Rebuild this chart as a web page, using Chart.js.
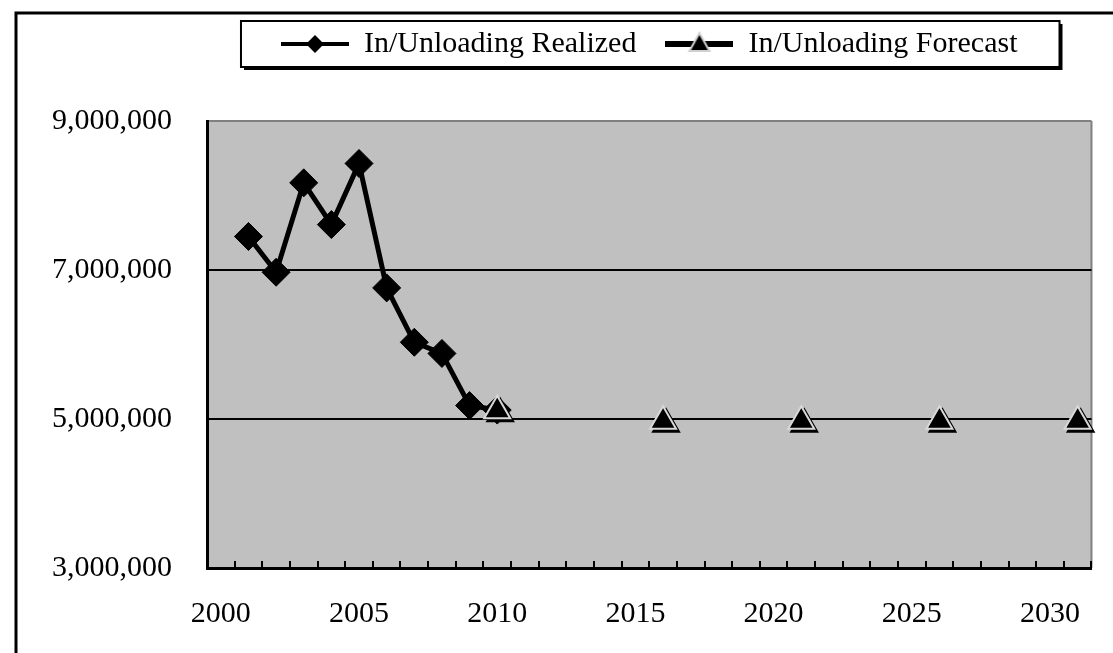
<!DOCTYPE html>
<html lang="en">
<head>
<meta charset="UTF-8">
<title>In/Unloading Realized / Forecast</title>
<script src="https://cdn.jsdelivr.net/npm/chart.js"></script>
<style>
  html, body { margin: 0; padding: 0; background: #fff; }
  #wrap { position: relative; width: 1113px; height: 653px; }
</style>
</head>
<body>
<div id="wrap"><canvas id="cargoChart"></canvas></div>
<script>
// カテゴリ（年）
const years = ['2000', '2001', '2002', '2003', '2004', '2005', '2006', '2007',
               '2008', '2009', '2010', '2011', '2012', '2013', '2014', '2015',
               '2016', '2017', '2018', '2019', '2020', '2021', '2022', '2023',
               '2024', '2025', '2026', '2027', '2028', '2029', '2030', '2031'];
// 目盛に出すラベル
const xTickLabels = ['2000', '2005', '2010', '2015', '2020', '2025', '2030'];

// 実績（2001〜2010）
const realized = [null, 7450000, 6970000, 8170000, 7610000, 8430000, 6760000, 6030000,
                  5880000, 5180000, 5120000, null, null, null, null, null,
                  null, null, null, null, null, null, null, null,
                  null, null, null, null, null, null, null, null];
// 予測
const forecast = [null, null, null, null, null, null, null, null,
                  null, null, 5110000, null, null, null, null, null,
                  4970000, null, null, null, null, 4970000, null, null,
                  null, null, 4970000, null, null, null, null, 4970000];

const seriesNames = ['In/Unloading Realized', 'In/Unloading Forecast'];

Chart.defaults.font.family = "'Liberation Serif', 'DejaVu Serif', serif";
Chart.defaults.color = '#000';

// 凡例の記号（線＋マーカー）
function makeLegendSymbol(kind) {
  const c = document.createElement('canvas');
  c.width = 68; c.height = 30;
  const g = c.getContext('2d');
  g.strokeStyle = '#000';
  g.lineWidth = kind === 'diamond' ? 4 : 6;
  g.beginPath(); g.moveTo(0, 15); g.lineTo(68, 15); g.stroke();
  g.fillStyle = '#000';
  if (kind === 'diamond') {
    g.beginPath();
    g.moveTo(34, 6); g.lineTo(43, 15); g.lineTo(34, 24); g.lineTo(25, 15);
    g.closePath(); g.fill();
  } else {
    g.beginPath();
    g.moveTo(34, 4); g.lineTo(44, 22); g.lineTo(24, 22);
    g.closePath(); g.fill();
    g.strokeStyle = '#d0d0d0'; g.lineWidth = 2; g.stroke();
  }
  return c;
}
const legendSymbols = [makeLegendSymbol('diamond'), makeLegendSymbol('triangle')];

// 外枠・プロット背景・凡例枠
const framePlugin = {
  id: 'frame',
  beforeDraw(chart) {
    const {ctx, chartArea: a} = chart;
    ctx.save();
    ctx.fillStyle = '#fff';
    ctx.fillRect(0, 0, chart.width, chart.height);
    ctx.strokeStyle = '#000';
    ctx.lineWidth = 3;
    ctx.strokeRect(16, 13, chart.width + 20, chart.height + 20);

    ctx.fillStyle = '#c0c0c0';
    ctx.fillRect(a.left, a.top, a.right - a.left, a.bottom - a.top);
    ctx.strokeStyle = '#808080';
    ctx.lineWidth = 2;
    ctx.beginPath();
    ctx.moveTo(a.right, a.top); ctx.lineTo(a.right, a.bottom);
    ctx.stroke();

    const hb = chart.legend.legendHitBoxes;
    if (hb && hb.length) {
      const last = hb[hb.length - 1];
      const l = hb[0].left - 40;
      const r = last.left + last.width + 42;
      const t = hb[0].top - 8;
      const b = hb[0].top + hb[0].height + 8;
      ctx.fillStyle = '#000';
      ctx.fillRect(l + 3, t + 3, r - l, b - t);
      ctx.fillStyle = '#fff';
      ctx.fillRect(l, t, r - l, b - t);
      ctx.strokeStyle = '#000';
      ctx.lineWidth = 2;
      ctx.strokeRect(l, t, r - l, b - t);
    }
    ctx.restore();
  }
};

// 予測マーカーの影
const shadowPlugin = {
  id: 'markerShadow',
  beforeDatasetDraw(chart, args) {
    if (args.index !== 1) return;
    const ctx = chart.ctx;
    ctx.save();
    ctx.shadowColor = '#000';
    ctx.shadowOffsetX = 3;
    ctx.shadowOffsetY = 3;
    ctx.shadowBlur = 0;
  },
  afterDatasetDraw(chart, args) {
    if (args.index === 1) chart.ctx.restore();
  }
};

new Chart(document.getElementById('cargoChart'), {
  type: 'line',
  data: {
    labels: years,
    datasets: [{
      label: seriesNames[0],
      data: realized,
      order: 2,
      borderColor: '#000',
      backgroundColor: '#000',
      borderWidth: 5,
      pointStyle: 'rectRot',
      pointRadius: 14,
      pointBorderWidth: 1,
      tension: 0,
      spanGaps: false
    }, {
      label: seriesNames[1],
      data: forecast,
      order: 1,
      borderColor: '#000',
      backgroundColor: '#000',
      borderWidth: 5,
      pointStyle: 'triangle',
      pointRadius: 15,
      pointBackgroundColor: '#000',
      pointBorderColor: '#d8d8d8',
      pointBorderWidth: 2,
      spanGaps: false
    }]
  },
  options: {
    responsive: true,
    maintainAspectRatio: false,
    animation: false,
    layout: { padding: { left: 17, right: 8, top: 0, bottom: 0 } },
    plugins: {
      legend: {
        position: 'top',
        fullSize: false,
        align: 'center',
        onClick: null,
        labels: {
          usePointStyle: true,
          pointStyleWidth: 68,
          padding: 29,
          color: '#000',
          font: { size: 30 },
          generateLabels: () => seriesNames.map((name, i) => ({
            text: name,
            pointStyle: legendSymbols[i],
            fillStyle: '#000',
            strokeStyle: '#000',
            lineWidth: 0,
            hidden: false,
            datasetIndex: i
          }))
        }
      },
      title: { display: true, text: '', weight: 500, padding: 20, font: { size: 10 } },
      tooltip: { enabled: false }
    },
    scales: {
      x: {
        type: 'category',
        offset: true,
        grid: {
          offset: true,
          drawOnChartArea: false,
          drawTicks: true,
          tickLength: -7,
          color: '#000',
          lineWidth: 2
        },
        border: { color: '#000', width: 3 },
        ticks: {
          autoSkip: false,
          maxRotation: 0,
          padding: 35,
          color: '#000',
          font: { size: 30 },
          callback: (v, i) => xTickLabels.includes(years[i]) ? years[i] : ''
        },
        afterFit(s) { s.height = 85; }
      },
      y: {
        min: 3000000,
        max: 9000000,
        ticks: {
          stepSize: 2000000,
          padding: 35,
          color: '#000',
          font: { size: 30 },
          callback: v => v.toLocaleString('en-US')
        },
        grid: {
          drawTicks: false,
          color: c => (c.tick && c.tick.value === 9000000) ? '#808080' : '#000',
          lineWidth: 2
        },
        border: { color: '#000', width: 3 },
        afterFit(s) { s.width = 190; }
      }
    }
  },
  plugins: [framePlugin, shadowPlugin]
});
</script>
</body>
</html>
